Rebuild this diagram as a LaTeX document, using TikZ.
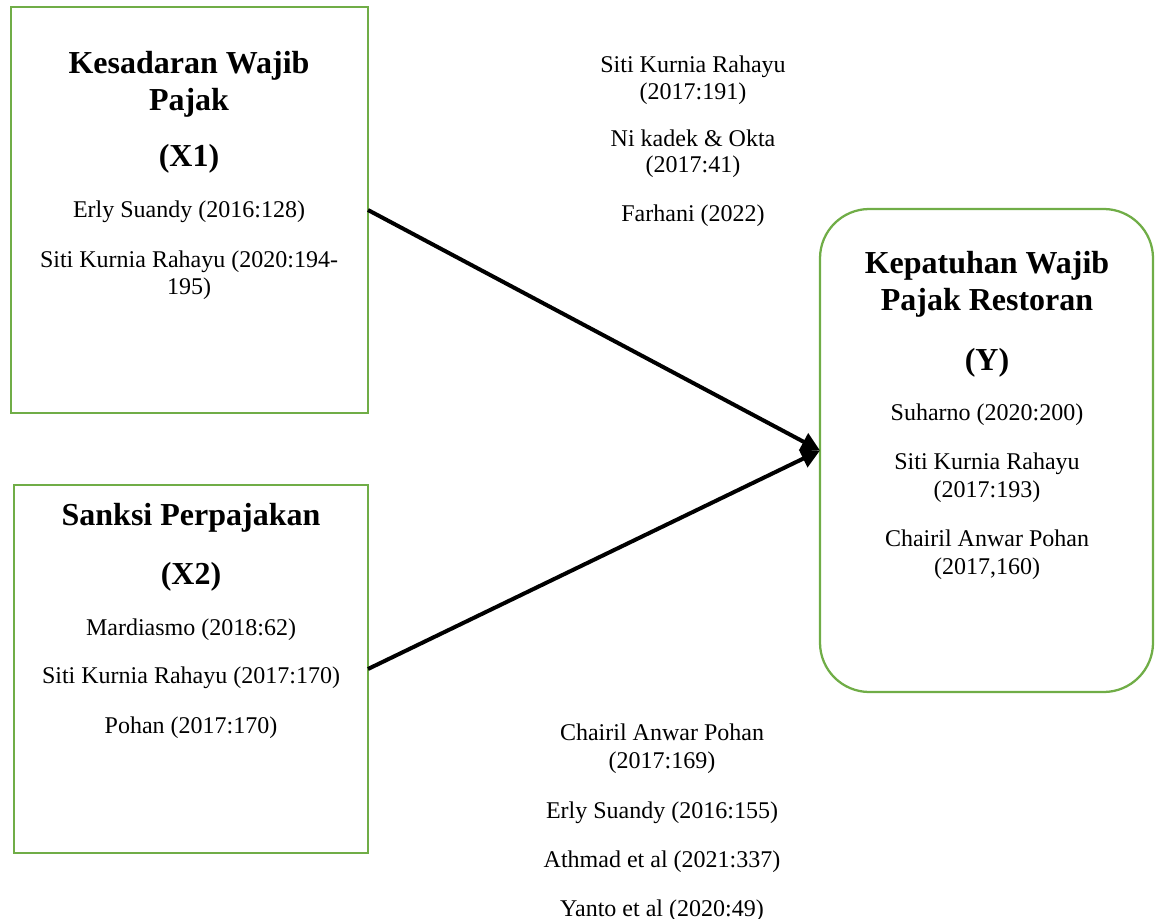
\documentclass[tikz,border=0pt]{standalone}
\usepackage{fontspec}
\setmainfont{Liberation Serif}
\usetikzlibrary{arrows.meta}
\definecolor{boxgreen}{HTML}{70AD47}
\tikzset{
  box/.style={draw=boxgreen, line width=1.7pt, inner sep=0pt, outer sep=0pt, rectangle},
  txt/.style={anchor=base, inner sep=0pt, font=\fontsize{18}{22}\selectfont},
  hd/.style={anchor=base, inner sep=0pt, font=\fontsize{24}{28}\selectfont\bfseries},
  arr/.style={line width=3pt, -{Triangle[length=14pt,width=14pt]}}
}
\begin{document}
\begin{tikzpicture}[x=0.75pt,y=-0.75pt]
\useasboundingbox (0,0) rectangle (1155,919);
% boxes
\node[box, minimum width=357*0.75pt, minimum height=406*0.75pt] (x1) at (189.5,210) {};
\node[box, minimum width=354*0.75pt, minimum height=368*0.75pt] (x2) at (191,669) {};
\node[box, rounded corners=37pt, minimum width=333*0.75pt, minimum height=483*0.75pt] (y) at (986.5,450.5) {};
% box 1 text
\node[hd] (x1h1) at (189,74) {Kesadaran Wajib};
\node[hd] (x1h2) at (189,111) {Pajak};
\node[hd] (x1h3) at (189,167) {(X1)};
\node[txt] (x1t1) at (189,218) {Erly Suandy (2016:128)};
\node[txt] (x1t2) at (189,268) {Siti Kurnia Rahayu (2020:194-};
\node[txt] (x1t3) at (189,295) {195)};
% box 2 text
\node[hd] (x2h1) at (191,525) {Sanksi Perpajakan};
\node[hd] (x2h2) at (191,584) {(X2)};
\node[txt] (x2t1) at (191,635) {Mardiasmo (2018:62)};
\node[txt] (x2t2) at (191,683) {Siti Kurnia Rahayu (2017:170)};
\node[txt] (x2t3) at (191,733) {Pohan (2017:170)};
% right box text
\node[hd] (yh1) at (987,274) {Kepatuhan Wajib};
\node[hd] (yh2) at (987,311) {Pajak Restoran};
\node[hd] (yh3) at (987,371) {(Y)};
\node[txt] (yt1) at (987,421) {Suharno (2020:200)};
\node[txt] (yt2) at (987,469) {Siti Kurnia Rahayu};
\node[txt] (yt3) at (987,497) {(2017:193)};
\node[txt] (yt4) at (987,546) {Chairil Anwar Pohan};
\node[txt] (yt5) at (987,574) {(2017,160)};
% top middle references
\node[txt] (r1) at (693,73) {Siti Kurnia Rahayu};
\node[txt] (r2) at (693,100) {(2017:191)};
\node[txt] (r3) at (693,147) {Ni kadek \& Okta};
\node[txt] (r4) at (693,173) {(2017:41)};
\node[txt] (r5) at (693,222) {Farhani (2022)};
% bottom middle references
\node[txt] (s1) at (662,740) {Chairil Anwar Pohan};
\node[txt] (s2) at (662,768) {(2017:169)};
\node[txt] (s3) at (662,818) {Erly Suandy (2016:155)};
\node[txt] (s4) at (662,867) {Athmad et al (2021:337)};
\node[txt] (s5) at (662,916) {Yanto et al (2020:49)};
% connectors
\draw[arr] (x1.east) -- (y.west);
\draw[arr] (x2.east) -- (y.west);
\end{tikzpicture}
\end{document}
